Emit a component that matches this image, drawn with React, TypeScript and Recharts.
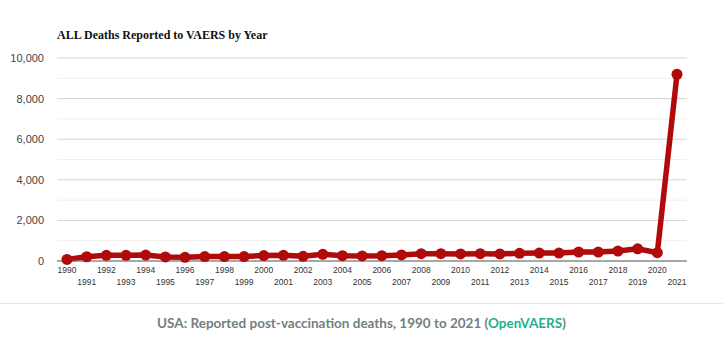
import React from 'react';
import { LineChart, Line, XAxis, YAxis, CartesianGrid, ReferenceLine } from 'recharts';

const years = [
  '1990', '1991', '1992', '1993', '1994', '1995', '1996', '1997', '1998', '1999',
  '2000', '2001', '2002', '2003', '2004', '2005', '2006', '2007', '2008', '2009',
  '2010', '2011', '2012', '2013', '2014', '2015', '2016', '2017', '2018', '2019',
  '2020', '2021',
];

const deaths = [
  80, 210, 280, 280, 290, 200, 180, 220, 220, 220,
  270, 280, 230, 330, 260, 250, 260, 300, 360, 360,
  350, 360, 350, 380, 390, 390, 440, 440, 490, 600,
  410, 9200,
];

const yTicks = [0, 2000, 4000, 6000, 8000, 10000];
const minorGrid = [1000, 3000, 5000, 7000, 9000];

const chartData = years.map((year, i) => ({ year, deaths: deaths[i] }));

function YearTick(props: any) {
  const { x, y, payload, index } = props;
  const dy = index % 2 === 0 ? 1 : 12.5;
  return (
    <text
      x={x}
      y={y + dy}
      textAnchor="middle"
      dominantBaseline="central"
      fontSize={8.5}
      fontFamily="'Liberation Sans Narrow', 'Arial Narrow', sans-serif"
      fill="#333"
    >
      {payload.value}
    </text>
  );
}

export default function App() {
  return (
    <div
      style={{
        position: 'absolute',
        left: 0,
        top: 0,
        width: 723,
        height: 355,
        background: '#fff',
        overflow: 'hidden',
      }}
    >
      <div
        style={{
          position: 'absolute',
          left: 57,
          top: 26,
          fontFamily: "'Liberation Serif', 'Times New Roman', serif",
          fontWeight: 700,
          fontSize: 12,
          color: '#111',
          lineHeight: '18px',
        }}
      >
        ALL Deaths Reported to VAERS by Year
      </div>
      <LineChart
        width={723}
        height={300}
        data={chartData}
        margin={{ top: 58, right: 36, left: 0, bottom: 9 }}
      >
        <CartesianGrid vertical={false} stroke="#d4d4d4" />
        {minorGrid.map((v) => (
          <ReferenceLine key={v} y={v} stroke="#efefef" />
        ))}
        <XAxis
          dataKey="year"
          interval={0}
          height={30}
          padding={{ left: 10, right: 10 }}
          tick={<YearTick />}
          tickLine={false}
          axisLine={{ stroke: '#666', strokeWidth: 1.2 }}
        />
        <YAxis
          width={57}
          domain={[0, 10000]}
          ticks={yTicks}
          tickFormatter={(v: number) => v.toLocaleString('en-US')}
          tick={{ fontSize: 11, fill: '#444', fontFamily: "'Liberation Sans', Arial, sans-serif" }}
          axisLine={false}
          tickLine={false}
          tickMargin={7}
        />
        <Line
          type="linear"
          dataKey="deaths"
          stroke="#b00a0a"
          strokeWidth={5.5}
          dot={{ r: 5.5, fill: '#b00a0a', stroke: '#b00a0a', strokeWidth: 0 }}
          isAnimationActive={false}
        />
      </LineChart>
      <div
        style={{
          position: 'absolute',
          left: 0,
          top: 303,
          width: 723,
          height: 1,
          background: '#e6e6e6',
        }}
      />
      <div
        style={{
          position: 'absolute',
          left: 0,
          top: 313,
          width: 723,
          textAlign: 'center',
          fontFamily: "Lato, 'Noto Sans', sans-serif",
          fontWeight: 700,
          fontSize: 13.5,
          lineHeight: '20px',
          color: '#738080',
        }}
      >
        USA: Reported post-vaccination deaths, 1990 to 2021 (
        <span style={{ color: '#22b08c' }}>OpenVAERS</span>)
      </div>
    </div>
  );
}
